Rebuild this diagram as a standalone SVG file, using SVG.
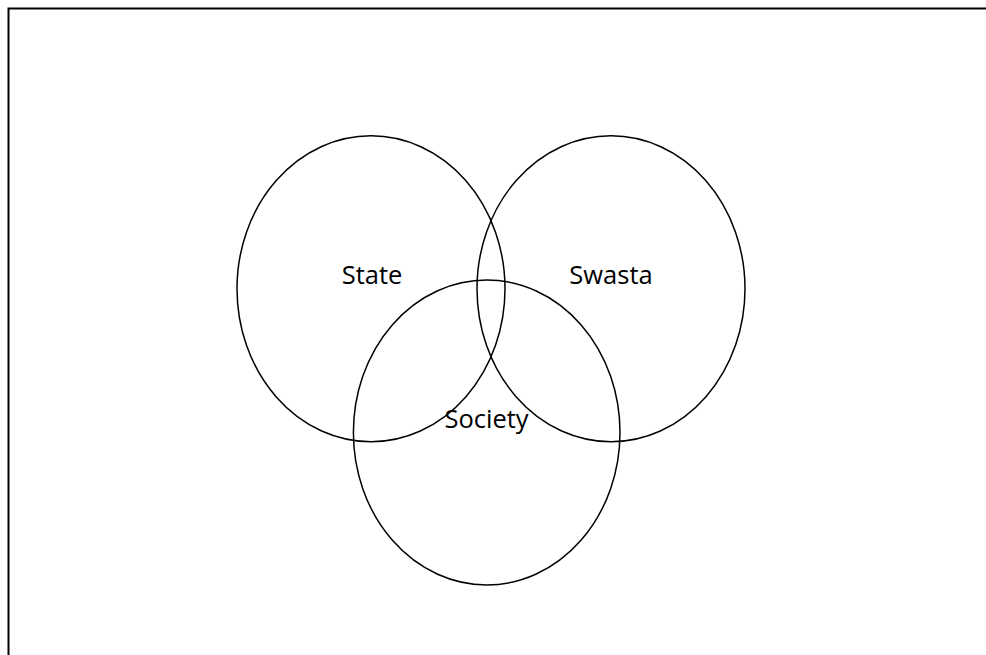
<svg xmlns="http://www.w3.org/2000/svg" width="986" height="655" viewBox="0 0 986 655">
<style>
.c{fill:none;stroke:#000;stroke-width:1.5}
.t{font-family:"Open Sans","Liberation Sans",sans-serif;font-size:25.5px;fill:#000;text-anchor:middle}
</style>
<rect width="986" height="655" fill="#fff"/>
<path d="M8.5,660 V8.5 H992" fill="none" stroke="#000" stroke-width="2"/>
<g id="state"><ellipse class="c" cx="371" cy="288.7" rx="134" ry="153"/></g>
<g id="swasta"><ellipse class="c" cx="611" cy="288.7" rx="134" ry="153"/></g>
<g id="society"><ellipse class="c" cx="486.7" cy="432.5" rx="133.3" ry="152.5"/></g>
<g id="labels">
<text class="t" x="372" y="284">State</text>
<text class="t" x="611" y="284">Swasta</text>
<text class="t" x="486.5" y="428">Society</text>
</g>
<g id="connectors"/>
</svg>
